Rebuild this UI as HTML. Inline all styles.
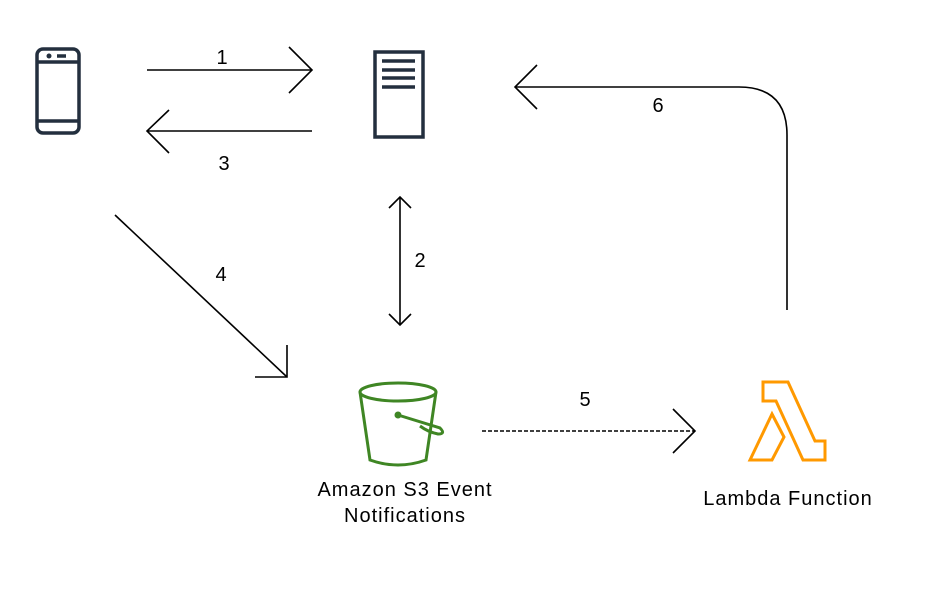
<!DOCTYPE html>
<html><head><meta charset="utf-8"><style>html,body{margin:0;padding:0;background:#fff}svg{display:block}text{font-family:"Liberation Sans",sans-serif;fill:#000}</style></head>
<body>
<svg width="931" height="597" viewBox="0 0 931 597" xmlns="http://www.w3.org/2000/svg">
<rect width="931" height="597" fill="#fff"/>
<g fill="none" stroke="#232f3e" stroke-width="3.5">
<rect x="37" y="49" width="42" height="84" rx="6"/>
<line x1="37" y1="62" x2="79" y2="62"/><line x1="37" y1="121" x2="79" y2="121"/>
<line x1="57" y1="56" x2="66" y2="56"/>
</g>
<circle cx="49" cy="56" r="2.5" fill="#232f3e"/>
<g fill="none" stroke="#232f3e" stroke-width="3.5">
<rect x="375" y="52" width="48" height="85"/>
<line x1="382" y1="61" x2="415" y2="61"/><line x1="382" y1="70" x2="415" y2="70"/><line x1="382" y1="78" x2="415" y2="78"/><line x1="382" y1="87" x2="415" y2="87"/>
</g>
<g fill="none" stroke="#000" stroke-width="1.6">
<line x1="147" y1="70" x2="312" y2="70"/><polyline points="289,47 312,70 289,93"/>
<line x1="147" y1="131" x2="312" y2="131"/><polyline points="169,110 147,131 169,153"/>
<line x1="400" y1="197" x2="400" y2="325"/><polyline points="389,208 400,197 411,208"/><polyline points="389,314 400,325 411,314"/>
<line x1="115" y1="215" x2="287" y2="377"/><polyline points="255,377 287,377 287,345"/>
<line x1="482" y1="431" x2="695" y2="431" stroke-dasharray="4,2"/><polyline points="673,409 695,431 673,453"/>
<path d="M787 310 V135 Q787 87 739 87 H515"/><polyline points="537,65 515,87 537,109"/>
</g>
<g fill="none" stroke="#3f8624" stroke-width="3">
<ellipse cx="398" cy="392" rx="38" ry="9"/>
<path d="M360 392 L370 460 Q398 470 426 460 L436 392"/>
<path d="M398 415 L440 428 Q446 434 438 434 Q428 432 420 426"/>
</g>
<circle cx="398" cy="415" r="3.5" fill="#3f8624"/>
<g fill="none" stroke="#ff9900" stroke-width="3" stroke-linejoin="miter">
<polygon points="763,382 788,382 815,441 825,441 825,460 803,460 776,401 763,401"/>
<polygon points="772,414 784,437 772,460 750,460"/>
</g>
<g font-size="20" font-weight="normal">
<text x="222" y="64" text-anchor="middle">1</text>
<text x="224" y="170" text-anchor="middle">3</text>
<text x="420" y="267" text-anchor="middle">2</text>
<text x="221" y="281" text-anchor="middle">4</text>
<text x="585" y="406" text-anchor="middle">5</text>
<text x="658" y="112" text-anchor="middle">6</text>
<text x="405" y="496" text-anchor="middle" letter-spacing="1">Amazon S3 Event</text>
<text x="405" y="522" text-anchor="middle" letter-spacing="1">Notifications</text>
<text x="788" y="505" text-anchor="middle" letter-spacing="1">Lambda Function</text>
</g>
</svg>
</body></html>
